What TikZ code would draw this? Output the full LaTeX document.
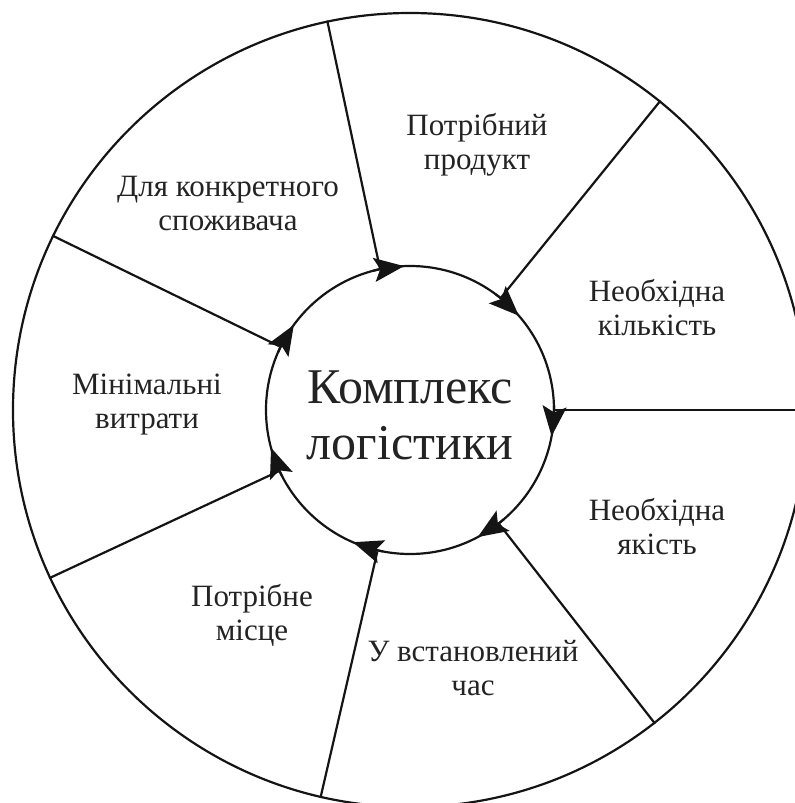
\documentclass[tikz,border=0pt]{standalone}
\usepackage{fontspec}
\setmainfont{Liberation Serif}
\usetikzlibrary{arrows.meta,bending}
\definecolor{txt}{RGB}{35,35,35}
\definecolor{ln}{RGB}{20,20,20}
\begin{document}
\begin{tikzpicture}[x=0.5pt,y=0.5pt,
  lbl/.style={align=center,text=txt,font=\fontsize{15.5}{17}\selectfont},
  spoke/.style={draw=ln,line width=1.1pt},
  ringstyle/.style={circle,draw=ln,line width=1.1pt,inner sep=0pt},
  flow/.style={draw=ln,line width=1.1pt,-{Stealth[length=15pt,width=12pt,inset=3pt]}}]
\useasboundingbox (-410,-393) rectangle (385,410);
\clip (-410,-393) rectangle (385,410);
\node[ringstyle,minimum size=397pt] (ring) at (0,0) {};
\node[ringstyle,minimum size=144pt] (core) at (0,0) {};
\node[align=center,text=txt,font=\fontsize{25}{28}\selectfont] (title) at (0,-5) {Комплекс\\логістики};
\foreach \k in {0,...,6}{
  \pgfmathsetmacro{\a}{\k*360/7+2}
  \draw[spoke] (ring.\a-2) -- (core.\a-2);
  \pgfmathsetmacro{\b}{\a-12.5}
  \draw[flow] (\a:144) arc[start angle=\a,end angle=\b,radius=144];
}
\node[lbl] (p1) at (67,265) {Потрібний\\продукт};
\node[lbl] (p2) at (247,102) {Необхідна\\кількість};
\node[lbl] (p3) at (247,-117) {Необхідна\\якість};
\node[lbl] (p4) at (63,-258) {У встановлений\\час};
\node[lbl] (p5) at (-158,-205) {Потрібне\\місце};
\node[lbl] (p6) at (-263,5) {Мінімальні\\витрати};
\node[lbl] (p7) at (-182,206) {Для конкретного\\споживача};
\end{tikzpicture}
\end{document}
